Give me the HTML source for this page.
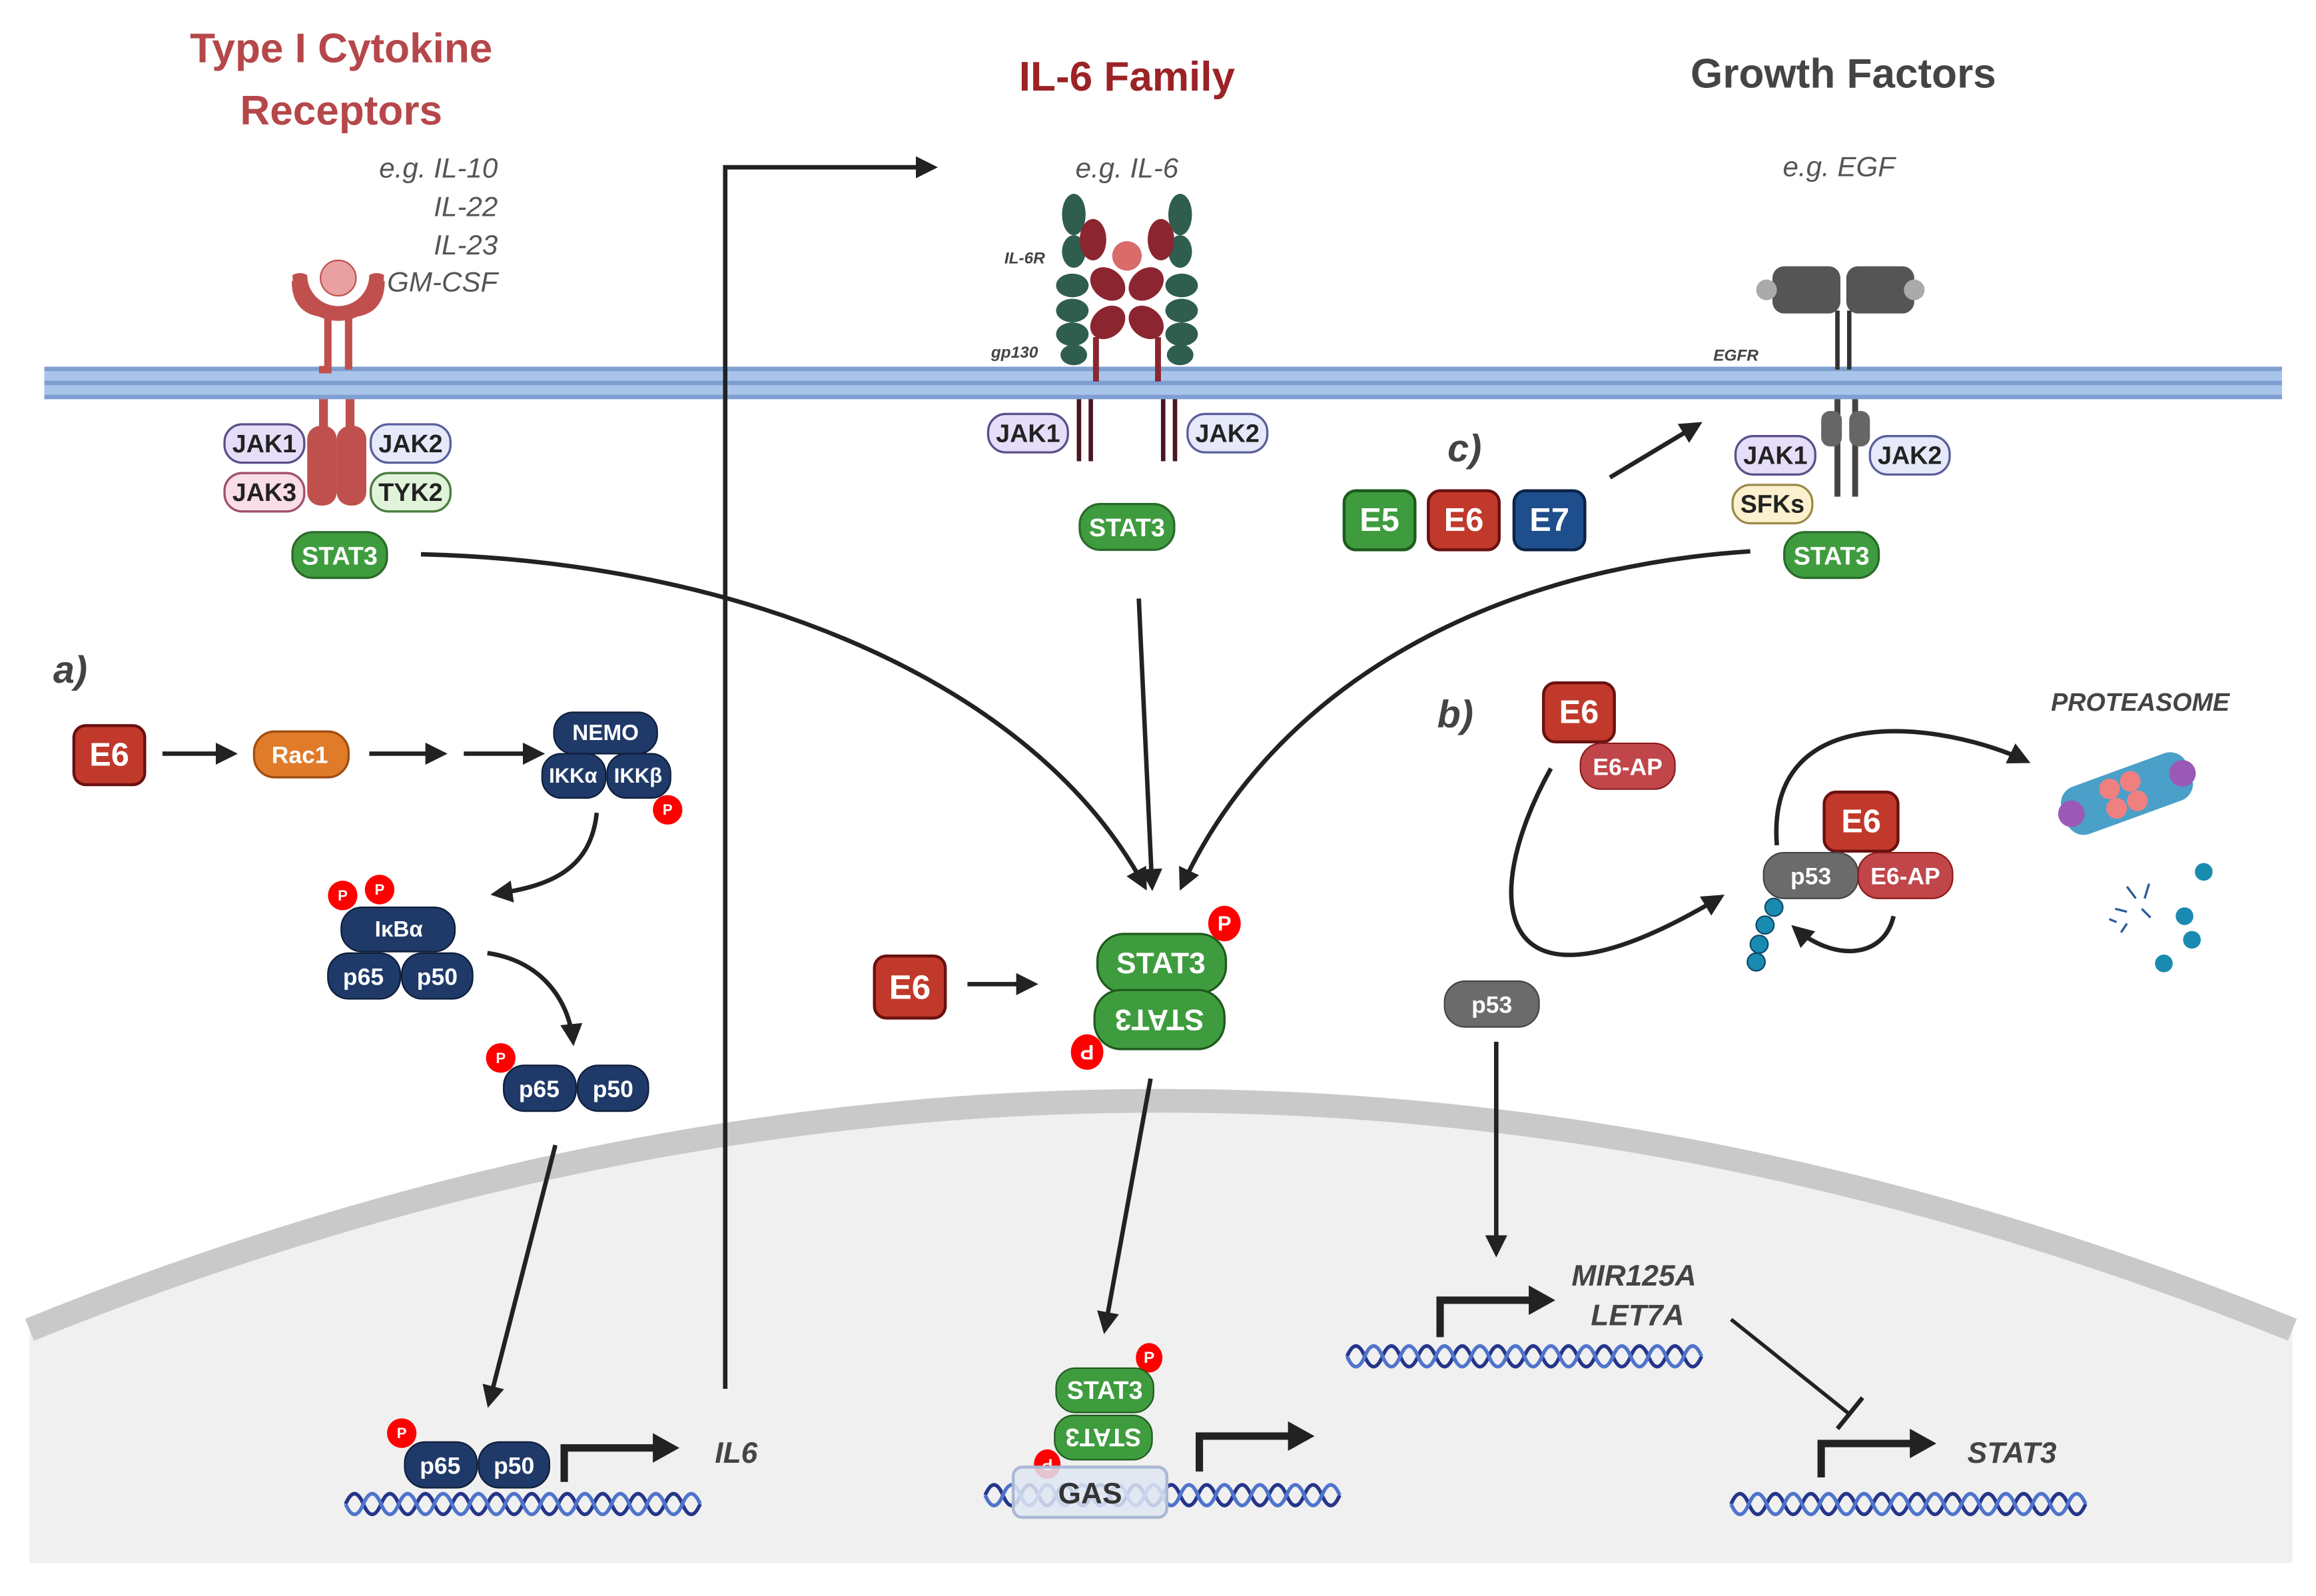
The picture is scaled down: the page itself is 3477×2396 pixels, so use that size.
<!DOCTYPE html>
<html><head><meta charset="utf-8"><style>
html,body{margin:0;padding:0;background:#fff}
svg{display:block}
text{font-family:"Liberation Sans",sans-serif}
.w{fill:#fff;font-weight:bold;text-anchor:middle;dominant-baseline:central}
.it{fill:#555;font-style:italic;font-size:19px}
.ar{stroke:#222;stroke-width:3;fill:none;marker-end:url(#ah)}
</style></head><body>
<svg width="3477" height="2396" viewBox="0 0 1568 1080" xmlns="http://www.w3.org/2000/svg">
<defs>
<marker id="ah" viewBox="0 0 10 10" refX="8" refY="5" markerWidth="5" markerHeight="5" orient="auto-start-reverse"><path d="M0,0L10,5L0,10z" fill="#222"/></marker>
<g id="dna"><path d="M0,0 q6,-14 12,0 t12,0 t12,0 t12,0 t12,0 t12,0 t12,0 t12,0 t12,0 t12,0 t12,0 t12,0 t12,0 t12,0 t12,0 t12,0 t12,0 t12,0 t12,0 t12,0" stroke="#25358a" stroke-width="2.5" fill="none"/><path d="M0,0 q6,14 12,0 t12,0 t12,0 t12,0 t12,0 t12,0 t12,0 t12,0 t12,0 t12,0 t12,0 t12,0 t12,0 t12,0 t12,0 t12,0 t12,0 t12,0 t12,0 t12,0" stroke="#4f74cc" stroke-width="2.5" fill="none"/></g>
</defs>
<path d="M20,900 Q786,590 1552,900 L1552,1058 L20,1058 Z" fill="#f0f0f0"/>
<path d="M20,900 Q786,590 1552,900" fill="none" stroke="#c9c9c9" stroke-width="16"/>
<rect x="30" y="248" width="1515" height="22" fill="#a9c4ea"/>
<rect x="30" y="248" width="1515" height="3" fill="#7f9fd2"/>
<rect x="30" y="257.5" width="1515" height="3" fill="#7f9fd2"/>
<rect x="30" y="267" width="1515" height="3" fill="#7f9fd2"/>

<text x="231" y="42" text-anchor="middle" font-size="28" font-weight="bold" fill="#b5474a">Type I Cytokine</text>
<text x="231" y="84" text-anchor="middle" font-size="28" font-weight="bold" fill="#b5474a">Receptors</text>
<text x="763" y="61" text-anchor="middle" font-size="28" font-weight="bold" fill="#9b2226">IL-6 Family</text>
<text x="1248" y="59" text-anchor="middle" font-size="28" font-weight="bold" fill="#444">Growth Factors</text>
<text class="it" x="337" y="120" text-anchor="end">e.g. IL-10</text>
<text class="it" x="337" y="146" text-anchor="end">IL-22</text>
<text class="it" x="337" y="172" text-anchor="end">IL-23</text>
<text class="it" x="337" y="197" text-anchor="end">GM-CSF</text>
<text class="it" x="763" y="120" text-anchor="middle">e.g. IL-6</text>
<text class="it" x="1245" y="119" text-anchor="middle">e.g. EGF</text>

<path d="M200,190 q0,22 22,22 v38 h-6 M258,190 q0,22 -22,22 v38" stroke="#c0504d" stroke-width="5" fill="none"/>
<path d="M198,186 a31,31 0 0 0 62,0 a10,10 0 0 0 -10,0 a21,21 0 0 1 -42,0 a10,10 0 0 0 -10,0z" fill="#c0504d"/>
<circle cx="229" cy="188" r="12" fill="#e8a0a0" stroke="#c0504d"/>
<rect x="216" y="270" width="6" height="20" fill="#c0504d"/><rect x="234" y="270" width="6" height="20" fill="#c0504d"/>
<rect x="208" y="288" width="20" height="54" rx="9" fill="#c0504d"/><rect x="228" y="288" width="20" height="54" rx="9" fill="#c0504d"/>
<g font-size="17">
<rect x="152" y="287" width="54" height="26" rx="12" fill="#e6def8" stroke="#5a4f8a" stroke-width="1.5"/><text class="w" x="179" y="300" style="fill:#222">JAK1</text>
<rect x="251" y="287" width="54" height="26" rx="12" fill="#e6e9fa" stroke="#5a5f9a" stroke-width="1.5"/><text class="w" x="278" y="300" style="fill:#222">JAK2</text>
<rect x="152" y="320" width="54" height="26" rx="12" fill="#f9dde8" stroke="#a0506a" stroke-width="1.5"/><text class="w" x="179" y="333" style="fill:#222">JAK3</text>
<rect x="251" y="320" width="54" height="26" rx="12" fill="#e1f3d9" stroke="#4a7a3f" stroke-width="1.5"/><text class="w" x="278" y="333" style="fill:#222">TYK2</text>
</g>
<rect x="198" y="360" width="64" height="31" rx="14" fill="#3f9c3e" stroke="#2a6a2a" stroke-width="1.5"/><text class="w" x="230" y="376" font-size="17">STAT3</text>

<g fill="#2f5e4e">
<ellipse cx="727" cy="145" rx="8" ry="14"/><ellipse cx="727" cy="170" rx="8" ry="11"/>
<ellipse cx="726" cy="193" rx="11" ry="8"/><ellipse cx="726" cy="210" rx="11" ry="8"/><ellipse cx="726" cy="226" rx="11" ry="8"/><ellipse cx="727" cy="240" rx="9" ry="7"/>
<ellipse cx="799" cy="145" rx="8" ry="14"/><ellipse cx="799" cy="170" rx="8" ry="11"/>
<ellipse cx="800" cy="193" rx="11" ry="8"/><ellipse cx="800" cy="210" rx="11" ry="8"/><ellipse cx="800" cy="226" rx="11" ry="8"/><ellipse cx="799" cy="240" rx="9" ry="7"/>
</g>
<g fill="#8b2630">
<ellipse cx="740" cy="162" rx="9" ry="14"/><ellipse cx="786" cy="162" rx="9" ry="14"/>
<ellipse cx="750" cy="192" rx="13" ry="10" transform="rotate(40 750 192)"/><ellipse cx="776" cy="192" rx="13" ry="10" transform="rotate(-40 776 192)"/>
<ellipse cx="750" cy="218" rx="13" ry="10" transform="rotate(-40 750 218)"/><ellipse cx="776" cy="218" rx="13" ry="10" transform="rotate(40 776 218)"/>
<rect x="740" y="228" width="4" height="30"/><rect x="782" y="228" width="4" height="30"/>
</g>
<circle cx="763" cy="173" r="10" fill="#d96b6b"/>
<text x="680" y="178" font-size="11" font-style="italic" font-weight="bold" fill="#444">IL-6R</text>
<text x="671" y="242" font-size="11" font-style="italic" font-weight="bold" fill="#444">gp130</text>
<rect x="729" y="270" width="3" height="42" fill="#4a1520"/><rect x="737" y="270" width="3" height="42" fill="#4a1520"/>
<rect x="786" y="270" width="3" height="42" fill="#4a1520"/><rect x="794" y="270" width="3" height="42" fill="#4a1520"/>
<rect x="669" y="280" width="54" height="26" rx="12" fill="#e6def8" stroke="#5a4f8a" stroke-width="1.5"/><text class="w" x="696" y="293" font-size="17" style="fill:#222">JAK1</text>
<rect x="804" y="280" width="54" height="26" rx="12" fill="#e6e9fa" stroke="#5a5f9a" stroke-width="1.5"/><text class="w" x="831" y="293" font-size="17" style="fill:#222">JAK2</text>
<rect x="731" y="341" width="64" height="31" rx="14" fill="#3f9c3e" stroke="#2a6a2a" stroke-width="1.5"/><text class="w" x="763" y="357" font-size="17">STAT3</text>

<rect x="1200" y="180" width="46" height="32" rx="8" fill="#555"/><rect x="1250" y="180" width="46" height="32" rx="8" fill="#555"/>
<circle cx="1196" cy="196" r="7" fill="#aaa"/><circle cx="1296" cy="196" r="7" fill="#aaa"/>
<path d="M1244,210 v40 M1252,210 v40" stroke="#333" stroke-width="3"/>
<text x="1160" y="244" font-size="11" font-style="italic" font-weight="bold" fill="#444">EGFR</text>
<path d="M1244,270 v66 M1256,270 v66" stroke="#444" stroke-width="4"/>
<rect x="1233" y="278" width="14" height="24" rx="6" fill="#666"/><rect x="1252" y="278" width="14" height="24" rx="6" fill="#666"/>
<rect x="1175" y="295" width="54" height="26" rx="12" fill="#e6def8" stroke="#5a4f8a" stroke-width="1.5"/><text class="w" x="1202" y="308" font-size="17" style="fill:#222">JAK1</text>
<rect x="1266" y="295" width="54" height="26" rx="12" fill="#e6e9fa" stroke="#5a5f9a" stroke-width="1.5"/><text class="w" x="1293" y="308" font-size="17" style="fill:#222">JAK2</text>
<rect x="1173" y="328" width="54" height="26" rx="12" fill="#fbf1cf" stroke="#9a8a4a" stroke-width="1.5"/><text class="w" x="1200" y="341" font-size="17" style="fill:#222">SFKs</text>
<rect x="1208" y="360" width="64" height="31" rx="14" fill="#3f9c3e" stroke="#2a6a2a" stroke-width="1.5"/><text class="w" x="1240" y="376" font-size="17">STAT3</text>

<text x="980" y="312" font-size="26" font-style="italic" font-weight="bold" fill="#444">c)</text>
<rect x="910" y="332" width="48" height="40" rx="8" fill="#3f9c3e" stroke="#1e5a1e" stroke-width="2"/><text class="w" x="934" y="352" font-size="22">E5</text>
<rect x="967" y="332" width="48" height="40" rx="8" fill="#c0392b" stroke="#6a1010" stroke-width="2"/><text class="w" x="991" y="352" font-size="22">E6</text>
<rect x="1025" y="332" width="48" height="40" rx="8" fill="#1f4e8c" stroke="#0c2348" stroke-width="2"/><text class="w" x="1049" y="352" font-size="22">E7</text>
<path class="ar" d="M1090,323 L1150,287"/>

<path d="M491,940 V113 H632" stroke="#222" stroke-width="3" fill="none" marker-end="url(#ah)"/>
<path class="ar" d="M285,375 C500,380 700,460 775,600"/>
<path class="ar" d="M771,405 L780,600"/>
<path class="ar" d="M1185,373 C1000,385 860,470 800,600"/>

<rect x="592" y="647" width="48" height="42" rx="8" fill="#c0392b" stroke="#6a1010" stroke-width="2"/><text class="w" x="616" y="668" font-size="23">E6</text>
<path class="ar" d="M655,666 L700,666"/>
<rect x="743" y="632" width="87" height="40" rx="18" fill="#3f9c3e" stroke="#1e5a1e" stroke-width="1.5"/><text class="w" x="786" y="652" font-size="20">STAT3</text>
<rect x="741" y="670" width="88" height="40" rx="18" fill="#3f9c3e" stroke="#1e5a1e" stroke-width="1.5"/><text class="w" x="785" y="690" font-size="20" transform="rotate(180 785 690)">STAT3</text>
<ellipse cx="829" cy="625" rx="11" ry="12" fill="#f00"/><text class="w" x="829" y="625" font-size="14">P</text>
<ellipse cx="736" cy="712" rx="11" ry="12" fill="#f00"/><text class="w" x="736" y="712" font-size="14" transform="rotate(180 736 712)">P</text>
<path class="ar" d="M779,730 L748,900"/>

<text x="36" y="462" font-size="26" font-style="italic" font-weight="bold" fill="#444">a)</text>
<rect x="50" y="491" width="48" height="40" rx="8" fill="#c0392b" stroke="#6a1010" stroke-width="2"/><text class="w" x="74" y="511" font-size="22">E6</text>
<path class="ar" d="M110,510 L158,510"/>
<rect x="172" y="495" width="64" height="31" rx="14" fill="#e07b2a" stroke="#a04e10" stroke-width="1.5"/><text class="w" x="203" y="511" font-size="16">Rac1</text>
<path class="ar" d="M250,510 L300,510"/><path class="ar" d="M314,510 L366,510"/>
<rect x="375" y="482" width="70" height="28" rx="13" fill="#1f3a68" stroke="#0e1d3a"/><text class="w" x="410" y="496" font-size="15">NEMO</text>
<rect x="367" y="510" width="43" height="30" rx="13" fill="#1f3a68" stroke="#0e1d3a"/><text class="w" x="388" y="525" font-size="14">IKKα</text>
<rect x="411" y="510" width="43" height="30" rx="13" fill="#1f3a68" stroke="#0e1d3a"/><text class="w" x="432" y="525" font-size="14">IKKβ</text>
<circle cx="452" cy="548" r="10" fill="#f00"/><text class="w" x="452" y="548" font-size="10">P</text>
<path class="ar" d="M404,550 C400,590 370,600 335,605"/>
<circle cx="232" cy="606" r="10" fill="#f00"/><text class="w" x="232" y="606" font-size="10">P</text>
<circle cx="257" cy="602" r="10" fill="#f00"/><text class="w" x="257" y="602" font-size="10">P</text>
<rect x="231" y="614" width="77" height="30" rx="14" fill="#1f3a68" stroke="#0e1d3a"/><text class="w" x="270" y="629" font-size="15">IκBα</text>
<rect x="222" y="645" width="49" height="31" rx="14" fill="#1f3a68" stroke="#0e1d3a"/><text class="w" x="246" y="661" font-size="16">p65</text>
<rect x="272" y="645" width="48" height="31" rx="14" fill="#1f3a68" stroke="#0e1d3a"/><text class="w" x="296" y="661" font-size="16">p50</text>
<path class="ar" d="M330,645 C365,650 385,675 388,705"/>
<circle cx="339" cy="716" r="10" fill="#f00"/><text class="w" x="339" y="716" font-size="10">P</text>
<rect x="341" y="721" width="49" height="31" rx="14" fill="#1f3a68" stroke="#0e1d3a"/><text class="w" x="365" y="737" font-size="16">p65</text>
<rect x="391" y="721" width="48" height="31" rx="14" fill="#1f3a68" stroke="#0e1d3a"/><text class="w" x="415" y="737" font-size="16">p50</text>
<path class="ar" d="M376,775 L331,950"/>

<circle cx="272" cy="970" r="10" fill="#f00"/><text class="w" x="272" y="970" font-size="10">P</text>
<rect x="274" y="976" width="49" height="31" rx="14" fill="#1f3a68" stroke="#0e1d3a"/><text class="w" x="298" y="992" font-size="16">p65</text>
<rect x="324" y="976" width="48" height="31" rx="14" fill="#1f3a68" stroke="#0e1d3a"/><text class="w" x="348" y="992" font-size="16">p50</text>
<path d="M382,1003 V980 H445" stroke="#222" stroke-width="5" fill="none"/><path d="M442,970 L460,980 L442,990z" fill="#222"/>
<text x="484" y="990" font-size="20" font-style="italic" font-weight="bold" fill="#444">IL6</text>
<use href="#dna" x="234" y="1018"/>

<ellipse cx="778" cy="919" rx="9" ry="10" fill="#f00"/><text class="w" x="778" y="919" font-size="11">P</text>
<rect x="715" y="926" width="66" height="30" rx="13" fill="#3f9c3e" stroke="#1e5a1e"/><text class="w" x="748" y="941" font-size="17">STAT3</text>
<rect x="714" y="958" width="66" height="30" rx="13" fill="#3f9c3e" stroke="#1e5a1e"/><text class="w" x="747" y="973" font-size="17" transform="rotate(180 747 973)">STAT3</text>
<ellipse cx="709" cy="991" rx="9" ry="10" fill="#f00"/><text class="w" x="709" y="991" font-size="11" transform="rotate(180 709 991)">P</text>
<use href="#dna" x="667" y="1012"/>
<rect x="686" y="993" width="104" height="34" rx="6" fill="#dfe6f2" fill-opacity="0.85" stroke="#aab8d4" stroke-width="2"/>
<text x="738" y="1011" text-anchor="middle" dominant-baseline="central" font-size="20" font-weight="bold" fill="#333">GAS</text>
<path d="M812,996 V972 H875" stroke="#222" stroke-width="5" fill="none"/><path d="M872,962 L890,972 L872,982z" fill="#222"/>

<text x="973" y="492" font-size="26" font-style="italic" font-weight="bold" fill="#444">b)</text>
<rect x="1045" y="462" width="48" height="40" rx="8" fill="#c0392b" stroke="#6a1010" stroke-width="2"/><text class="w" x="1069" y="482" font-size="22">E6</text>
<rect x="1070" y="503" width="64" height="31" rx="14" fill="#c0464a" stroke="#8b1a1a"/><text class="w" x="1102" y="519" font-size="16">E6-AP</text>
<path class="ar" d="M1050,520 C1000,610 1010,700 1165,607"/>
<rect x="978" y="664" width="64" height="31" rx="14" fill="#6b6b6b" stroke="#444"/><text class="w" x="1010" y="680" font-size="16">p53</text>
<path class="ar" d="M1013,705 L1013,848"/>
<rect x="1235" y="536" width="50" height="40" rx="8" fill="#c0392b" stroke="#6a1010" stroke-width="2"/><text class="w" x="1260" y="556" font-size="22">E6</text>
<rect x="1194" y="577" width="64" height="31" rx="14" fill="#6b6b6b" stroke="#444"/><text class="w" x="1226" y="593" font-size="16">p53</text>
<rect x="1258" y="577" width="64" height="31" rx="14" fill="#c0464a" stroke="#8b1a1a"/><text class="w" x="1290" y="593" font-size="16">E6-AP</text>
<g fill="#1a8bb0" stroke="#0a4a6a"><circle cx="1201" cy="614" r="6"/><circle cx="1195" cy="626" r="6"/><circle cx="1191" cy="639" r="6"/><circle cx="1189" cy="651" r="6"/></g>
<path class="ar" d="M1282,620 C1275,650 1240,650 1215,628"/>
<path class="ar" d="M1203,572 C1195,470 1320,490 1372,515"/>
<text x="1449" y="481" text-anchor="middle" font-size="17" font-style="italic" font-weight="bold" fill="#444">PROTEASOME</text>
<g transform="rotate(-20 1440 537)">
<rect x="1395" y="520" width="90" height="34" rx="12" fill="#4aa0c8"/>
<g fill="#9b59b6"><circle cx="1400" cy="537" r="9"/><circle cx="1480" cy="537" r="9"/></g>
<g fill="#f08080"><circle cx="1430" cy="530" r="7"/><circle cx="1445" cy="530" r="7"/><circle cx="1430" cy="544" r="7"/><circle cx="1445" cy="544" r="7"/></g>
</g>
<g fill="#1a8bb0"><circle cx="1492" cy="590" r="6"/><circle cx="1479" cy="620" r="6"/><circle cx="1484" cy="636" r="6"/><circle cx="1465" cy="652" r="6"/></g>
<g stroke="#2a5a9a" stroke-width="1.5"><path d="M1440,600 l6,8 M1455,598 l-3,10 M1432,615 l8,2 M1450,615 l6,6 M1440,625 l-4,6 M1428,622 l5,2"/></g>

<text x="1064" y="870" font-size="20" font-style="italic" font-weight="bold" fill="#444">MIR125A</text>
<text x="1077" y="897" font-size="20" font-style="italic" font-weight="bold" fill="#444">LET7A</text>
<path d="M975,905 V880 H1038" stroke="#222" stroke-width="5" fill="none"/><path d="M1035,870 L1053,880 L1035,890z" fill="#222"/>
<use href="#dna" x="912" y="918"/>
<path d="M1172,893 L1252,957" stroke="#222" stroke-width="2.5"/><path d="M1244,967 L1261,946" stroke="#222" stroke-width="3"/>
<path d="M1233,1000 V977 H1296" stroke="#222" stroke-width="5" fill="none"/><path d="M1293,967 L1311,977 L1293,987z" fill="#222"/>
<text x="1332" y="990" font-size="20" font-style="italic" font-weight="bold" fill="#444">STAT3</text>
<use href="#dna" x="1172" y="1018"/>
</svg>
</body></html>
